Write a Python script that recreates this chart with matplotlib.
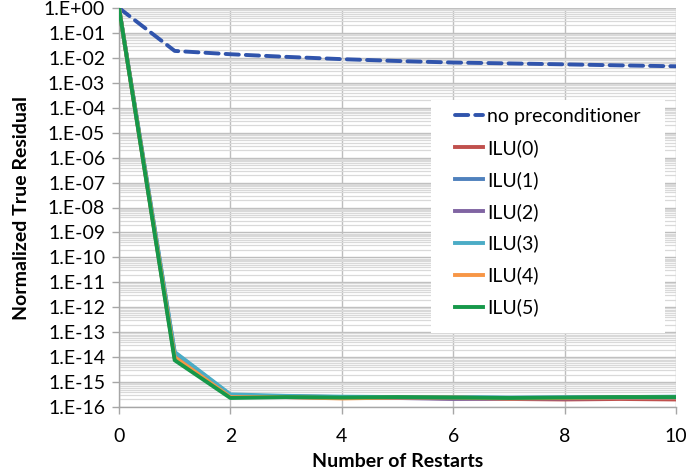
import matplotlib
matplotlib.use('Agg')
from matplotlib import pyplot as plt
from matplotlib.patches import Rectangle
from matplotlib.ticker import FixedLocator, FuncFormatter, LogLocator, NullFormatter
import numpy as np

plt.rcParams['font.family'] = ['Lato', 'DejaVu Sans']

restarts = list(range(11))

no_precond = [1.0, 1.9e-2, 1.4e-2, 1.1e-2, 8.9e-3, 7.5e-3, 6.5e-3, 6.0e-3, 5.5e-3, 5.0e-3, 4.6e-3]
ilu0 = [1.0, 9.0e-15, 2.6e-16, 2.7e-16, 2.5e-16, 2.4e-16, 2.2e-16, 2.1e-16, 2.0e-16, 2.1e-16, 2.0e-16]
ilu1 = [1.0, 1.5e-14, 3.0e-16, 2.6e-16, 2.4e-16, 2.5e-16, 2.4e-16, 2.3e-16, 2.4e-16, 2.5e-16, 2.5e-16]
ilu2 = [1.0, 1.1e-14, 2.7e-16, 2.5e-16, 2.3e-16, 2.3e-16, 2.1e-16, 2.2e-16, 2.2e-16, 2.3e-16, 2.3e-16]
ilu3 = [1.0, 1.6e-14, 3.2e-16, 2.8e-16, 2.6e-16, 2.5e-16, 2.5e-16, 2.4e-16, 2.4e-16, 2.5e-16, 2.6e-16]
ilu4 = [1.0, 1.0e-14, 2.5e-16, 2.5e-16, 2.2e-16, 2.4e-16, 2.4e-16, 2.2e-16, 2.3e-16, 2.4e-16, 2.4e-16]
ilu5 = [1.0, 7.5e-15, 2.3e-16, 2.5e-16, 2.4e-16, 2.5e-16, 2.4e-16, 2.3e-16, 2.4e-16, 2.5e-16, 2.5e-16]

ilu_series = [ilu0, ilu1, ilu2, ilu3, ilu4, ilu5]
ilu_labels = ['ILU(0)', 'ILU(1)', 'ILU(2)', 'ILU(3)', 'ILU(4)', 'ILU(5)']
ilu_colors = ['#C0504D', '#4F81BD', '#8064A2', '#4BACC6', '#F79646', '#16984A']

y_exponents = list(range(0, -17, -1))

W, H = 695, 471


def main():
    fig = plt.figure(figsize=(W / 100, H / 100), dpi=100)
    ax = fig.add_axes([119 / W, 64 / H, 557 / W, 399 / H])

    ax.plot(restarts, no_precond, color='#3054AC', lw=2.8, dashes=(3.4, 1.8),
            dash_capstyle='round', label='no preconditioner', zorder=3)
    for vals, lab, col in zip(ilu_series, ilu_labels, ilu_colors):
        ax.plot(restarts, vals, color=col, lw=2.8, label=lab, zorder=3)

    ax.set_yscale('log')
    ax.set_ylim(1e-16, 1e0)
    ax.set_xlim(0, 10)

    ax.yaxis.set_major_locator(FixedLocator([10.0 ** e for e in y_exponents]))
    ax.yaxis.set_major_formatter(
        FuncFormatter(lambda v, pos: '1.E%+03d' % int(round(np.log10(v)))))
    ax.yaxis.set_minor_locator(LogLocator(base=10, subs=np.arange(2, 10), numticks=100))
    ax.yaxis.set_minor_formatter(NullFormatter())
    ax.set_xticks([0, 2, 4, 6, 8, 10])

    ax.grid(True, which='major', axis='both', color='#BDBDBD', lw=1.0, zorder=0)
    ax.grid(True, which='minor', axis='y', color='#D9D9D9', lw=0.9, zorder=0)
    ax.set_axisbelow(True)

    for side in ['top', 'right']:
        ax.spines[side].set_visible(False)
    for side in ['left', 'bottom']:
        ax.spines[side].set_color('#A6A6A6')
        ax.spines[side].set_linewidth(1.0)

    ax.tick_params(axis='both', which='major', labelsize=14, color='#A6A6A6',
                   length=5, width=1.0)
    ax.tick_params(axis='y', which='minor', length=0)
    ax.tick_params(axis='x', pad=10)
    ax.tick_params(axis='y', pad=5)

    ax.set_xlabel('Number of Restarts', fontsize=14, fontweight='bold', labelpad=6)
    ax.set_ylabel('Normalized True Residual', fontsize=14, fontweight='bold', labelpad=10)

    # white legend panel, wider than the legend contents
    panel = Rectangle((431 / W, 1 - 333 / H), 234 / W, 233 / H, transform=fig.transFigure,
                      facecolor='white', edgecolor='none', zorder=4, clip_on=False)
    ax.add_patch(panel)

    leg = ax.legend(loc='upper left', bbox_to_anchor=(455 / W, 1 - 108 / H),
                    bbox_transform=fig.transFigure, fontsize=14, frameon=False,
                    handlelength=1.45, handletextpad=0.2, labelspacing=0.72,
                    borderpad=0, borderaxespad=0)
    leg.set_zorder(5)

    fig.savefig('out.png', dpi=100)


if __name__ == '__main__':
    main()
